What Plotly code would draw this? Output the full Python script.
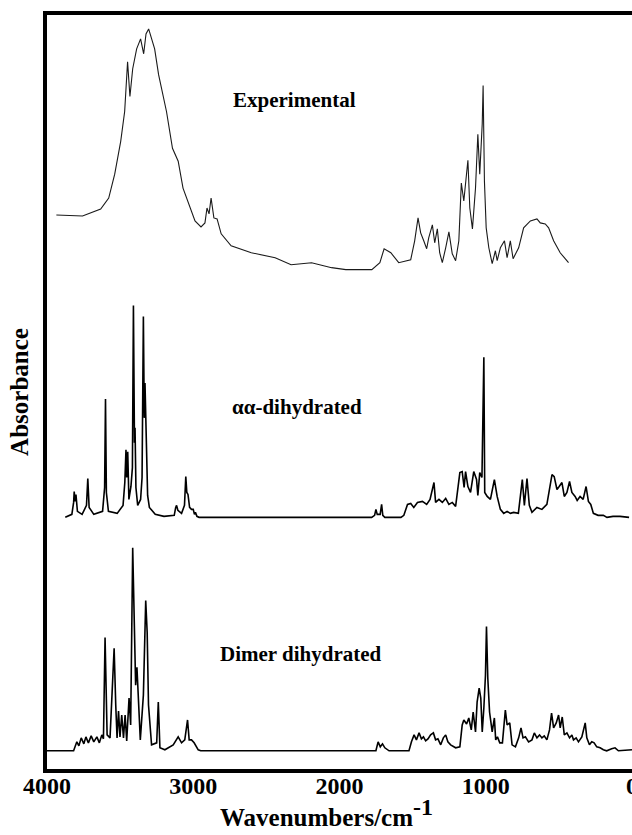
import plotly.graph_objects as go

# ---------------- data ----------------
# Experimental spectrum: wavenumber (cm-1) and absorbance above its offset
exp_wn = [3936, 3757, 3633, 3578, 3537, 3496, 3469, 3449, 3433, 3414, 3387, 3360, 3339,
          3323, 3305, 3285, 3264, 3237, 3183, 3142, 3103, 3070, 3029, 2988, 2947, 2920,
          2906, 2892, 2878, 2859, 2837, 2809, 2741, 2603, 2440, 2331, 2191, 2054, 1957,
          1779, 1724, 1695, 1649, 1595, 1513, 1486, 1463, 1445, 1424, 1404, 1390, 1365,
          1349, 1331, 1315, 1297, 1274, 1252, 1229, 1206, 1184, 1167, 1150, 1122, 1109,
          1091, 1070, 1054, 1041, 1024, 1018, 1009, 997, 979, 956, 934, 922, 900, 872,
          854, 832, 813, 775, 741, 695, 650, 627, 593, 570, 536, 491, 434]
exp_abs = [0.57, 0.56, 0.63, 0.74, 0.98, 1.31, 1.61, 2.11, 1.76, 2.04, 2.24, 2.34, 2.19,
           2.39, 2.44, 2.34, 2.24, 1.98, 1.61, 1.24, 1.11, 0.84, 0.68, 0.51, 0.45, 0.49,
           0.64, 0.58, 0.74, 0.54, 0.53, 0.38, 0.26, 0.19, 0.14, 0.07, 0.09, 0.04, 0.02,
           0.02, 0.09, 0.23, 0.19, 0.09, 0.12, 0.31, 0.54, 0.39, 0.31, 0.23, 0.34, 0.47,
           0.29, 0.43, 0.19, 0.09, 0.24, 0.40, 0.18, 0.11, 0.31, 0.89, 0.71, 1.12, 0.64,
           0.43, 0.84, 1.38, 0.98, 1.49, 1.87, 0.91, 0.44, 0.24, 0.08, 0.21, 0.11, 0.24, 0.31,
           0.14, 0.31, 0.13, 0.24, 0.44, 0.51, 0.53, 0.49, 0.48, 0.44, 0.31, 0.19, 0.09]

# alpha,alpha-dihydrated (calculated)
aa_wn = [3875, 3830, 3818, 3814, 3808, 3802, 3792, 3760, 3730, 3721, 3712, 3680, 3620,
         3606, 3600, 3594, 3580, 3520, 3480, 3468, 3460, 3455, 3448, 3440, 3426, 3416,
         3409, 3402, 3398, 3392, 3380, 3360, 3350, 3341, 3335, 3330, 3322, 3312, 3300,
         3260, 3200, 3130, 3120, 3114, 3105, 3080, 3060, 3051, 3044, 3036, 3025, 3012,
         3000, 2992, 2985, 2975, 2960,
         1780, 1760, 1751, 1742, 1722, 1712, 1704, 1690, 1580, 1560, 1535, 1513, 1492,
         1467, 1433, 1404, 1381, 1354, 1343, 1320, 1297, 1274, 1252, 1229, 1206, 1177,
         1161, 1148, 1138, 1122, 1104, 1082, 1063, 1054, 1041, 1026, 1013, 1007, 990,
         968, 941, 922, 900, 877, 854, 832, 809, 777, 750, 736, 718, 702, 684, 650, 616,
         582, 547, 532, 513, 498, 479, 463, 445, 427, 411, 389, 375, 355, 334, 314, 298,
         282, 264, 232, 196, 171, 130, 82, 36, 20]
aa_abs = [0.00, 0.03, 0.15, 0.26, 0.16, 0.23, 0.06, 0.03, 0.12, 0.39, 0.10, 0.03, 0.06,
          0.30, 1.19, 0.25, 0.06, 0.04, 0.12, 0.35, 0.68, 0.40, 0.66, 0.18, 0.31, 0.50,
          2.13, 0.75, 0.90, 0.30, 0.12, 0.18, 0.40, 2.02, 1.00, 1.35, 0.70, 0.22, 0.10,
          0.03, 0.01, 0.02, 0.10, 0.12, 0.07, 0.04, 0.12, 0.41, 0.25, 0.23, 0.10, 0.08,
          0.08, 0.03, 0.05, 0.01, 0.00,
          0.00, 0.02, 0.08, 0.03, 0.03, 0.13, 0.02, 0.00, 0.00, 0.02, 0.13, 0.14, 0.10,
          0.15, 0.16, 0.13, 0.18, 0.35, 0.15, 0.18, 0.15, 0.19, 0.13, 0.15, 0.11, 0.45,
          0.46, 0.30, 0.46, 0.31, 0.25, 0.46, 0.38, 0.22, 0.45, 0.40, 1.61, 0.25, 0.21,
          0.18, 0.38, 0.21, 0.08, 0.04, 0.06, 0.04, 0.05, 0.04, 0.38, 0.12, 0.39, 0.12,
          0.05, 0.10, 0.08, 0.13, 0.43, 0.41, 0.28, 0.31, 0.35, 0.21, 0.25, 0.36, 0.25,
          0.21, 0.17, 0.21, 0.18, 0.31, 0.16, 0.13, 0.04, 0.02, 0.02, 0.00, 0.01, 0.01,
          0.005, 0.00]

# Dimer dihydrated (calculated)
dim_wn = [4000, 3818, 3796, 3782, 3766, 3748, 3734, 3717, 3698, 3680, 3659, 3642, 3625,
          3614, 3603, 3589, 3569, 3552, 3541, 3530, 3521, 3511, 3501, 3489, 3477, 3466,
          3455, 3439, 3428, 3414, 3402, 3394, 3385, 3375, 3362, 3341, 3325, 3315, 3306,
          3285, 3250, 3239, 3228, 3194, 3137, 3103, 3080, 3058, 3039, 3028, 3012, 2994,
          2978, 2966, 2949,
          1751, 1736, 1721, 1706, 1690, 1661, 1525, 1508, 1490, 1474, 1456, 1440, 1426,
          1411, 1395, 1377, 1358, 1343, 1327, 1308, 1290, 1274, 1259, 1240, 1206, 1177,
          1161, 1150, 1131, 1116, 1099, 1086, 1070, 1059, 1045, 1034, 1024, 1013, 1002,
          995, 986, 974, 956, 941, 932, 920, 904, 886, 866, 854, 836, 820, 797, 775, 759,
          745, 729, 707, 684, 668, 650, 632, 616, 600, 582, 564, 550, 536, 518, 502, 491,
          477, 463, 445, 427, 411, 400, 382, 366, 343, 320, 309, 291, 275, 259, 241, 218,
          196, 173, 139, 116, 93, 0]
dim_abs = [0.00, 0.00, 0.09, 0.05, 0.13, 0.07, 0.14, 0.08, 0.15, 0.09, 0.14, 0.08, 0.16,
           0.12, 1.14, 0.16, 0.13, 0.60, 1.03, 0.46, 0.13, 0.40, 0.14, 0.36, 0.13, 0.36,
           0.10, 0.53, 0.26, 2.04, 1.24, 0.66, 0.84, 0.53, 0.11, 0.56, 1.51, 1.19, 0.46,
           0.06, 0.08, 0.49, 0.03, 0.01, 0.06, 0.14, 0.08, 0.11, 0.31, 0.11, 0.11, 0.08,
           0.04, 0.01, 0.00,
           0.00, 0.09, 0.04, 0.07, 0.03, 0.00, 0.00, 0.09, 0.16, 0.11, 0.18, 0.12, 0.14,
           0.10, 0.12, 0.16, 0.18, 0.11, 0.12, 0.06, 0.13, 0.16, 0.09, 0.06, 0.03, 0.04,
           0.26, 0.31, 0.27, 0.33, 0.21, 0.39, 0.19, 0.49, 0.63, 0.53, 0.19, 0.43, 0.76,
           1.25, 0.73, 0.39, 0.19, 0.33, 0.11, 0.14, 0.08, 0.08, 0.41, 0.26, 0.28, 0.06,
           0.04, 0.13, 0.23, 0.13, 0.14, 0.09, 0.11, 0.18, 0.13, 0.16, 0.13, 0.15, 0.11,
           0.21, 0.38, 0.23, 0.28, 0.36, 0.23, 0.34, 0.16, 0.18, 0.13, 0.16, 0.11, 0.13,
           0.09, 0.14, 0.28, 0.13, 0.06, 0.09, 0.08, 0.04, 0.03, 0.01, 0.00, 0.02, 0.03,
           0.00, 0.01]

# vertical stacking offsets of the three spectra
offsets = {"Experimental": 5.0, "αα-dihydrated": 2.53, "Dimer dihydrated": 0.183}
label_pos = {"Experimental": (2310, 6.73), "αα-dihydrated": (2290, 3.64),
             "Dimer dihydrated": (2262, 1.16)}
x_ticks = [4000, 3000, 2000, 1000, 0]

series = [
    ("Experimental", exp_wn, exp_abs, 1.1, "#1a1a1a"),
    ("αα-dihydrated", aa_wn, aa_abs, 1.6, "#000000"),
    ("Dimer dihydrated", dim_wn, dim_abs, 1.6, "#000000"),
]

FONT = "Liberation Serif, Times New Roman, serif"

fig = go.Figure()
for name, wn, ab, lw, col in series:
    off = offsets[name]
    fig.add_trace(go.Scatter(
        x=wn, y=[a + off for a in ab], mode="lines", name=name,
        line=dict(color=col, width=lw), showlegend=False,
    ))
    lx, ly = label_pos[name]
    fig.add_annotation(x=lx, y=ly, text=f"<b>{name}</b>", showarrow=False,
                       font=dict(family=FONT, size=21, color="black"))

# x-axis title (placed as in the reference, slightly left of centre)
fig.add_annotation(
    xref="paper", yref="paper", x=0.478, y=-0.058, yanchor="middle", showarrow=False,
    text="<b>Wavenumbers/cm<sup><span style='font-size:24px'>-1</span></sup></b>",
    font=dict(family=FONT, size=25, color="black"),
)

fig.update_layout(
    width=632, height=835,
    margin=dict(l=47, r=0, t=15, b=66, autoexpand=False),
    paper_bgcolor="white", plot_bgcolor="white",
    font=dict(family=FONT, color="black"),
)
fig.update_xaxes(
    range=[4000, 0], tickvals=x_ticks, ticktext=[f"<b>{v}</b>" for v in x_ticks],
    tickfont=dict(size=24, family=FONT), ticks="", ticklen=0, showgrid=False,
    zeroline=False, ticklabeloverflow="allow", ticklabelstandoff=-8, automargin=False,
    showline=True, linewidth=4, linecolor="black", mirror=True,
)
fig.update_yaxes(
    range=[0, 7.58], showticklabels=False, ticks="", showgrid=False, zeroline=False,
    showline=True, linewidth=4, linecolor="black", automargin=False,
    title=dict(text="<b>Absorbance</b>", font=dict(size=25, family=FONT), standoff=8),
)

fig.write_html("out.html", config={"displayModeBar": False},
               post_script="document.body.style.margin='0';")
